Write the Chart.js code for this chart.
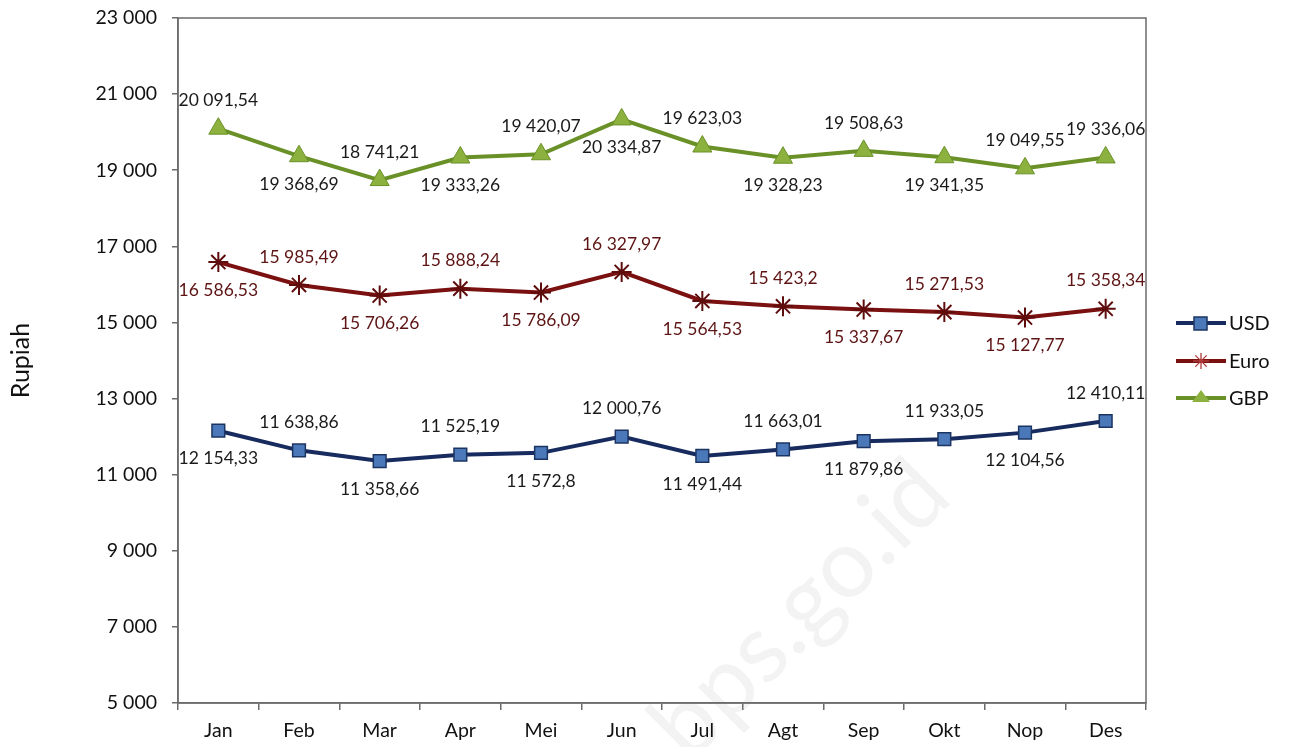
<!DOCTYPE html>
<html lang="id">
<head>
  <meta charset="UTF-8" />
  <title>Kurs Rupiah 2013</title>
  <script src="https://cdn.jsdelivr.net/npm/chart.js"></script>
  <style>
    html, body { margin: 0; padding: 0; background: #fff; }
    #wrap { width: 1290px; height: 747px; }
  </style>
</head>
<body>
  <div id="wrap"><canvas id="kurs" width="1290" height="747"></canvas></div>

  <script>
    // data
    const months = ['Jan', 'Feb', 'Mar', 'Apr', 'Mei', 'Jun', 'Jul', 'Agt', 'Sep', 'Okt', 'Nop', 'Des'];
    const usd  = [12154.33, 11638.86, 11358.66, 11525.19, 11572.8, 12000.76, 11491.44, 11663.01, 11879.86, 11933.05, 12104.56, 12410.11];
    const euro = [16586.53, 15985.49, 15706.26, 15888.24, 15786.09, 16327.97, 15564.53, 15423.2, 15337.67, 15271.53, 15127.77, 15358.34];
    const gbp  = [20091.54, 19368.69, 18741.21, 19333.26, 19420.07, 20334.87, 19623.03, 19328.23, 19508.63, 19341.35, 19049.55, 19336.06];
    const yTicks = [5000, 7000, 9000, 11000, 13000, 15000, 17000, 19000, 21000, 23000];

    // where each value label sits: a = above, b = below
    const usdPos  = ['b', 'a', 'b', 'a', 'b', 'a', 'b', 'a', 'b', 'a', 'b', 'a'];
    const euroPos = ['b', 'a', 'b', 'a', 'b', 'a', 'b', 'a', 'b', 'a', 'b', 'a'];
    const gbpPos  = ['a', 'b', 'a', 'b', 'a', 'b', 'a', 'b', 'a', 'b', 'a', 'a'];

    const FONT = 'Lato, "Open Sans", sans-serif';

    // 12154.33 -> "12 154,33"
    function fmt(v) {
      const parts = String(v).split('.');
      const int = parts[0].replace(/\B(?=(\d{3})+(?!\d))/g, ' ');
      return parts[1] ? int + ',' + parts[1] : int;
    }

    const labelPos = [usdPos, euroPos, gbpPos];
    const labelColor = ['#1a1a1a', '#5e1414', '#1a1a1a'];

    // faint watermark behind everything
    const watermark = {
      id: 'watermark',
      beforeDraw(chart) {
        const c = chart.ctx;
        c.save();
        c.translate(800, 610);
        c.rotate(-45 * Math.PI / 180);
        c.font = '96px ' + FONT;
        c.fillStyle = '#f3f3f3';
        c.textAlign = 'center';
        c.textBaseline = 'middle';
        c.fillText('bps.go.id', 0, 0);
        c.restore();
      }
    };

    // box round the plot area
    const frame = {
      id: 'frame',
      beforeDatasetsDraw(chart) {
        const a = chart.chartArea;
        const c = chart.ctx;
        c.save();
        c.strokeStyle = '#6b6b6b';
        c.lineWidth = 1.5;
        c.strokeRect(a.left, a.top, a.right - a.left, a.bottom - a.top);
        c.restore();
      }
    };

    // value labels above / below the points
    const valueLabels = {
      id: 'valueLabels',
      afterDatasetsDraw(chart) {
        const c = chart.ctx;
        c.save();
        c.font = '17.5px ' + FONT;
        c.textAlign = 'center';
        c.textBaseline = 'middle';
        chart.data.datasets.forEach((ds, i) => {
          const meta = chart.getDatasetMeta(i);
          c.fillStyle = labelColor[i];
          meta.data.forEach((pt, j) => {
            const dy = labelPos[i][j] === 'a' ? -28 : 28;
            c.fillText(fmt(ds.data[j]), pt.x, pt.y + dy);
          });
        });
        c.restore();
      }
    };

    // legend on the right: short line with the marker on it
    const sideLegend = {
      id: 'sideLegend',
      afterDraw(chart) {
        const c = chart.ctx;
        const rows = [323, 361, 398];
        c.save();
        chart.data.datasets.forEach((ds, i) => {
          const y = rows[i];
          c.strokeStyle = ds.borderColor;
          c.lineWidth = 4;
          c.beginPath();
          c.moveTo(1176, y);
          c.lineTo(1226, y);
          c.stroke();
          c.fillStyle = ds.pointBackgroundColor;
          c.strokeStyle = ds.pointBorderColor;
          c.lineWidth = 1.5;
          if (ds.pointStyle === 'rect') {
            c.fillRect(1194, y - 6, 13, 13);
            c.strokeRect(1194, y - 6, 13, 13);
          } else if (ds.pointStyle === 'star') {
            c.strokeStyle = '#b03a3a';
            c.lineWidth = 1.3;
            c.beginPath();
            for (let k = 0; k < 4; k++) {
              const ang = k * Math.PI / 4;
              c.moveTo(1201 - 8 * Math.cos(ang), y - 8 * Math.sin(ang));
              c.lineTo(1201 + 8 * Math.cos(ang), y + 8 * Math.sin(ang));
            }
            c.stroke();
          } else {
            c.beginPath();
            c.moveTo(1201, y - 8);
            c.lineTo(1210, y + 4);
            c.lineTo(1192, y + 4);
            c.closePath();
            c.fill();
          }
          c.fillStyle = '#111';
          c.font = '20px ' + FONT;
          c.textAlign = 'left';
          c.textBaseline = 'middle';
          c.fillText(ds.label, 1229, y + 1);
        });
        c.restore();
      }
    };

    new Chart(document.getElementById('kurs').getContext('2d'), {
      type: 'line',
      data: {
        labels: months,
        datasets: [
          {
            label: 'USD',
            data: usd,
            borderColor: '#172b5e',
            borderWidth: 4,
            pointStyle: 'rect',
            pointRadius: 9,
            pointBackgroundColor: '#4a78b8',
            pointBorderColor: '#1c3461',
            pointBorderWidth: 1.5,
            tension: 0
          },
          {
            label: 'Euro',
            data: euro,
            borderColor: '#7a1010',
            borderWidth: 4,
            pointStyle: 'star',
            pointRadius: 10,
            pointBackgroundColor: '#7a1010',
            pointBorderColor: '#5e0c0c',
            pointBorderWidth: 2,
            tension: 0
          },
          {
            label: 'GBP',
            data: gbp,
            borderColor: '#6a9127',
            borderWidth: 4,
            pointStyle: 'triangle',
            pointRadius: 11,
            pointBackgroundColor: '#8cb13f',
            pointBorderColor: '#6a9127',
            pointBorderWidth: 1,
            tension: 0
          }
        ]
      },
      options: {
        responsive: false,
        animation: false,
        layout: { padding: { top: 18, right: 144, bottom: 0, left: 0 } },
        plugins: {
          legend: { display: false },
          tooltip: { enabled: false }
        },
        scales: {
          x: {
            offset: true,
            grid: { offset: true, drawOnChartArea: false, drawTicks: true, tickLength: 7, color: '#6b6b6b', lineWidth: 1.5 },
            border: { color: '#6b6b6b', width: 1.5 },
            ticks: { color: '#111', font: { family: FONT, size: 19.5 }, padding: 9 },
            afterFit(scale) { scale.height = 44; scale.paddingLeft = 0; scale.paddingRight = 0; }
          },
          y: {
            min: 5000,
            max: 23000,
            afterBuildTicks(scale) { scale.ticks = yTicks.map(v => ({ value: v })); },
            grid: { drawOnChartArea: false, drawTicks: true, tickLength: 6, color: '#6b6b6b', lineWidth: 1.5 },
            border: { color: '#6b6b6b', width: 1.5 },
            ticks: {
              color: '#111',
              font: { family: FONT, size: 19.5 },
              padding: 15,
              callback: v => fmt(v)
            },
            title: {
              display: true,
              text: 'Rupiah',
              color: '#111',
              font: { family: FONT, size: 25 },
              padding: { top: 6, bottom: 0 }
            },
            afterFit(scale) { scale.width = 178; scale.paddingTop = 0; scale.paddingBottom = 0; }
          }
        }
      },
      plugins: [watermark, frame, valueLabels, sideLegend]
    });
  </script>
</body>
</html>
